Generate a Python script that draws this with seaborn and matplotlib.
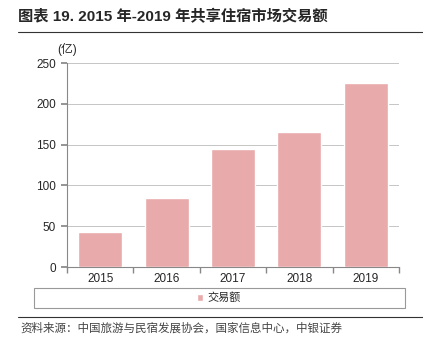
import matplotlib
matplotlib.use("Agg")
import matplotlib.pyplot as plt
import seaborn as sns
import pandas as pd
from matplotlib.lines import Line2D
from matplotlib.patches import Rectangle

years = ["2015", "2016", "2017", "2018", "2019"]
values = [43, 85, 145, 165, 225]
series_name = "交易额"
title = "图表 19. 2015 年-2019 年共享住宿市场交易额"
unit = "(亿)"
source = "资料来源：中国旅游与民宿发展协会，国家信息中心，中银证券"

sns.set_theme(style="white")
plt.rcParams['font.family'] = ['Liberation Sans', 'Noto Sans CJK SC', 'DejaVu Sans']

df = pd.DataFrame({"year": years, "value": values})

fig = plt.figure(figsize=(4.23, 3.57), dpi=100)
ax = fig.add_axes([67/423, 1-267/357, 332/423, 204/357])

sns.barplot(data=df, x="year", y="value", color="#E8AAAA", saturation=1,
            width=0.66, ax=ax, label=series_name, zorder=3, legend=False)
if ax.get_legend() is not None:
    ax.get_legend().remove()

ax.set_ylim(0, 250)
ax.set_yticks([0, 50, 100, 150, 200, 250])
ax.set_xlim(-0.5, 4.5)
ax.yaxis.grid(True, color="#BBBBBB", linewidth=0.6, zorder=0)
ax.set_xlabel("")
ax.set_ylabel("")
for s in ["top", "right"]:
    ax.spines[s].set_visible(False)
for s in ["left", "bottom"]:
    ax.spines[s].set_color("#888888")
    ax.spines[s].set_linewidth(0.8)
ax.tick_params(axis="y", which="major", length=4, color="#888888", labelsize=8.5, pad=4, left=True, direction="out")
ax.tick_params(axis="x", which="major", length=0, labelsize=8.5, pad=4)
ax.set_xticks([-0.5, 0.5, 1.5, 2.5, 3.5, 4.5], minor=True)
ax.tick_params(axis="x", which="minor", length=4, color="#888888", bottom=True, direction="out")

ax.text(-0.03, 1.035, unit, transform=ax.transAxes, fontsize=8.5, ha="left", va="bottom",
        family=['Liberation Sans', 'Noto Sans CJK SC'])

# title
fig.text(18/423, 1-17/357, title, fontsize=11, fontweight="bold", ha="left", va="center",
         family=['Liberation Sans', 'Noto Sans CJK SC'])
fig.add_artist(Line2D([18/423, 1.0], [1-32/357, 1-32/357], color="#333333", linewidth=0.8))

# legend box
fig.add_artist(Rectangle((34/423, 1-308/357), 371/423, 20/357, transform=fig.transFigure,
                         fill=False, edgecolor="#999999", linewidth=0.8))
handles = [bar for bar in ax.patches[:1]]
leg = fig.legend(handles, [series_name], loc="center", bbox_to_anchor=(219/423, 1-298/357),
                 frameon=False, handlelength=0.55, handleheight=0.55, handletextpad=0.4,
                 borderpad=0, prop={"family": ['Noto Sans CJK SC'], "size": 8})

fig.add_artist(Line2D([18/423, 1.0], [1-317/357, 1-317/357], color="#333333", linewidth=0.8))
fig.text(20/423, 1-328/357, source, fontsize=8.3, ha="left", va="center", color="#444444",
         style="italic", family=['Noto Sans CJK SC'])

fig.savefig("out.png", dpi=100)
